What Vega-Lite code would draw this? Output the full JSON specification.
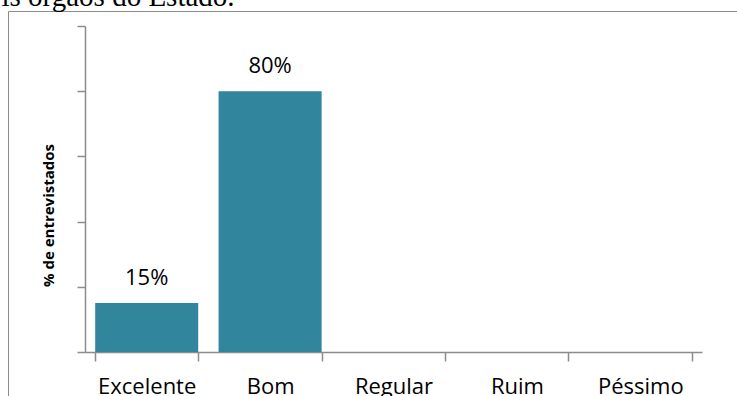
{
  "$schema": "https://vega.github.io/schema/vega-lite/v6.json",
  "autosize": "none",
  "width": 760,
  "height": 400,
  "padding": {"left": 8, "top": 11, "right": -31, "bottom": -15},
  "background": "white",
  "data": {
    "values": [
      {"cat": "Excelente", "pct": 0.15},
      {"cat": "Bom", "pct": 0.80},
      {"cat": "Regular", "pct": 0},
      {"cat": "Ruim", "pct": 0},
      {"cat": "Péssimo", "pct": 0}
    ]
  },
  "config": {
    "view": {"stroke": "#8c8c8c", "strokeWidth": 1},
    "axis": {"grid": false}
  },
  "resolve": {"axis": {"x": "independent"}},
  "layer": [
    {
      "mark": {"type": "bar", "color": "#31859C"},
      "encoding": {
        "x": {
          "field": "cat",
          "type": "nominal",
          "sort": null,
          "scale": {
            "domain": ["Excelente", "Bom", "Regular", "Ruim", "Péssimo"],
            "range": [77, 694],
            "paddingInner": 0.165,
            "paddingOuter": 0.0825
          },
          "axis": {
            "title": null,
            "orient": "bottom",
            "offset": -59,
            "tickBand": "extent",
            "tickSize": 9,
            "tickWidth": 1.5,
            "tickColor": "#8c8c8c",
            "domainColor": "#8c8c8c",
            "domainWidth": 1.5,
            "labelPadding": 32,
            "labelBaseline": "alphabetic",
            "labelAngle": 0,
            "labelFont": "Open Sans",
            "labelFontSize": 22,
            "labelColor": "black"
          }
        },
        "y": {
          "field": "pct",
          "type": "quantitative",
          "scale": {"domain": [0, 1], "range": [341, 15], "nice": false},
          "axis": {
            "title": "% de entrevistados",
            "offset": -77,
            "values": [0, 0.2, 0.4, 0.6, 0.8, 1],
            "labels": false,
            "tickSize": 8,
            "tickWidth": 1.5,
            "tickColor": "#8c8c8c",
            "domainColor": "#8c8c8c",
            "domainWidth": 1.5,
            "titleFont": "Open Sans",
            "titleFontSize": 15,
            "titleFontWeight": "bold",
            "titleColor": "black",
            "titleX": -32,
            "titleY": 204,
            "titleAlign": "center",
            "titleBaseline": "alphabetic"
          }
        }
      }
    },
    {
      "transform": [{"filter": "datum.pct > 0"}],
      "mark": {
        "type": "text",
        "baseline": "alphabetic",
        "dy": -18,
        "font": "Open Sans",
        "fontSize": 22,
        "color": "black"
      },
      "encoding": {
        "x": {
          "field": "cat",
          "type": "nominal",
          "sort": null,
          "axis": {
            "orient": "top",
            "offset": 0,
            "labels": false,
            "ticks": false,
            "domain": false,
            "title": "is órgãos do Estado.",
            "titleFont": "Liberation Serif",
            "titleFontSize": 29,
            "titleFontWeight": "normal",
            "titleColor": "black",
            "titleX": -7,
            "titleY": -6,
            "titleAlign": "left",
            "titleBaseline": "alphabetic",
            "titleAngle": 0
          }
        },
        "y": {"field": "pct", "type": "quantitative"},
        "text": {"field": "pct", "format": ".0%"}
      }
    }
  ]
}
